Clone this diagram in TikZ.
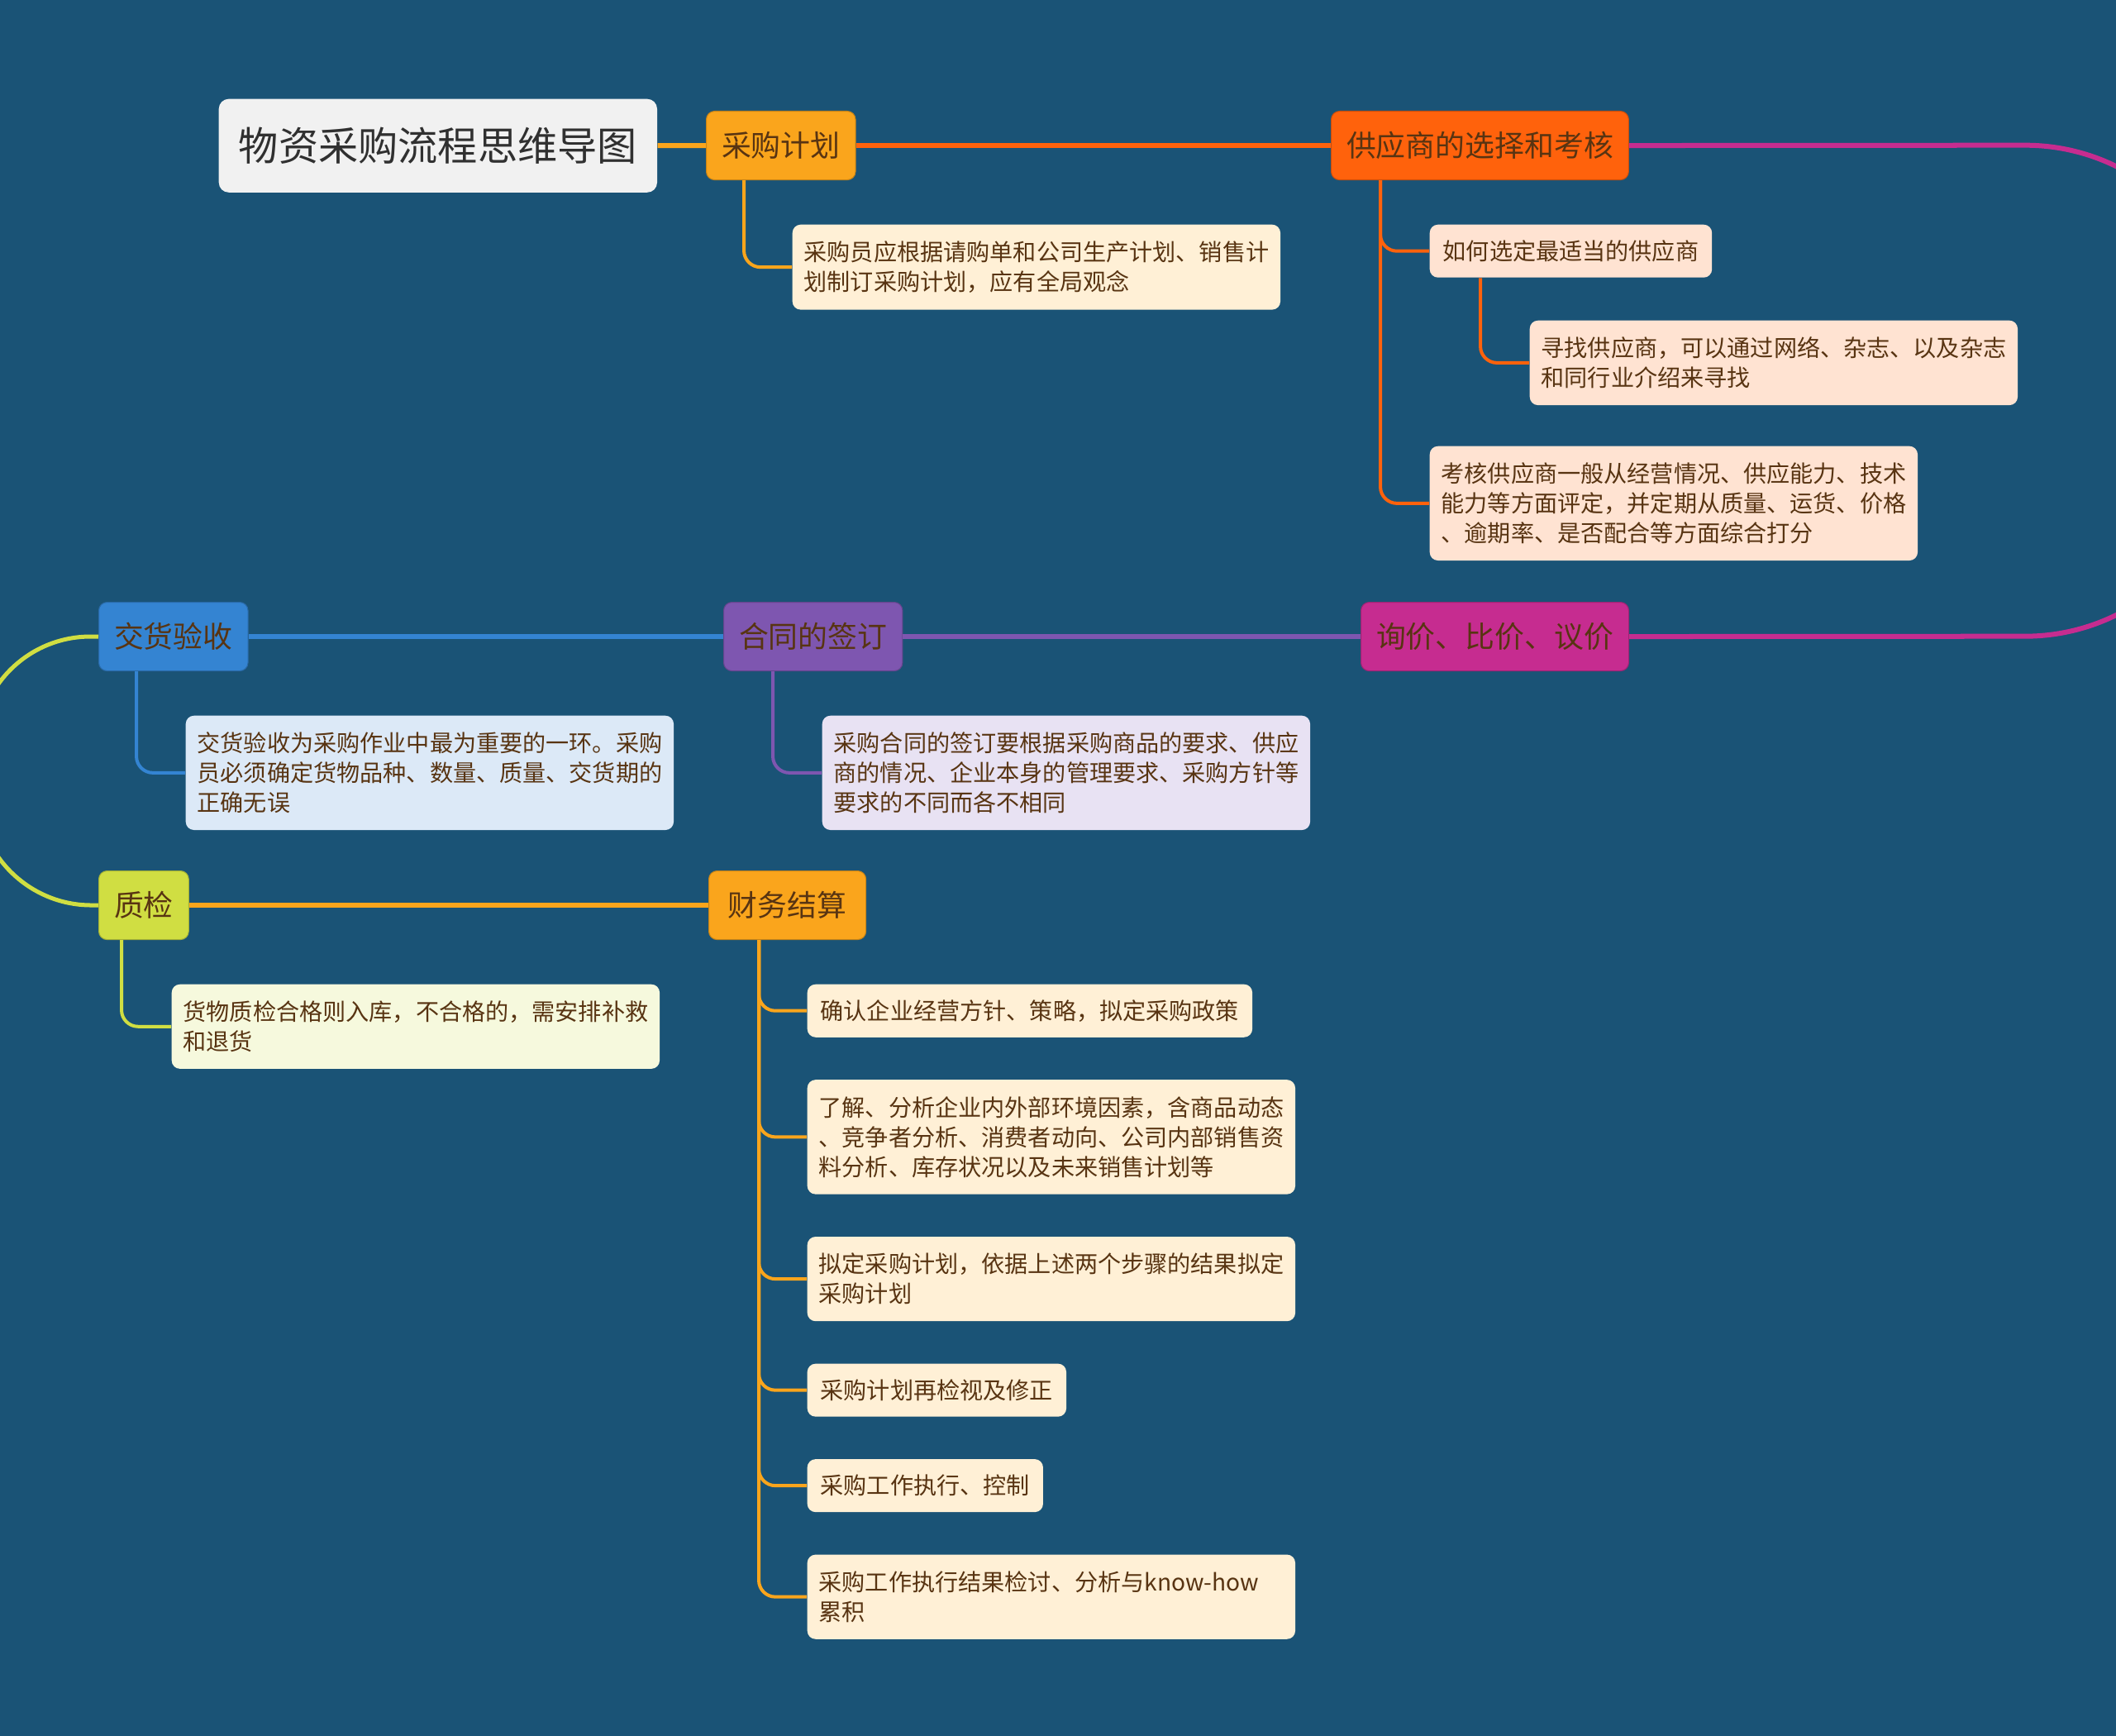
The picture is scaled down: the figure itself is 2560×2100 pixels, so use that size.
\documentclass[tikz,border=0pt]{standalone}
\usepackage{fontspec}
\setmainfont{Noto Sans CJK SC}
\usetikzlibrary{positioning,calc}
\definecolor{PageBlue}{RGB}{26,83,118}
\definecolor{TitleGrey}{RGB}{241,241,241}
\definecolor{TitleInk}{RGB}{48,48,48}
\definecolor{InkBrown}{RGB}{88,52,18}
\definecolor{PlanAmber}{RGB}{250,165,28}
\definecolor{SupplierRed}{RGB}{255,98,12}
\definecolor{PriceMagenta}{RGB}{198,44,144}
\definecolor{ContractPurple}{RGB}{126,86,176}
\definecolor{DeliveryBlue}{RGB}{52,132,210}
\definecolor{CheckLime}{RGB}{208,222,66}
\definecolor{AmberNote}{RGB}{255,240,214}
\definecolor{PeachNote}{RGB}{255,227,210}
\definecolor{LilacNote}{RGB}{232,226,243}
\definecolor{SkyNote}{RGB}{220,233,247}
\definecolor{LimeNote}{RGB}{246,249,221}
\tikzset{
  headbox/.style={fill=TitleGrey,rounded corners=0.12cm,minimum width=5.3cm,
    minimum height=1.13cm,text=TitleInk,font=\fontsize{13.7pt}{16pt}\selectfont,
    anchor=north west},
  branch/.style={draw=#1!80!black,line width=0.3pt,fill=#1,rounded corners=0.1cm,
    minimum height=0.83cm,inner xsep=0.185cm,text=InkBrown,
    font=\fontsize{10.2pt}{12pt}\selectfont,anchor=north west},
  note/.style={fill=#1,rounded corners=0.1cm,inner xsep=0.16cm,inner ysep=0.17cm,
    minimum height=0.64cm,text=InkBrown,font=\fontsize{8pt}{10.25pt}\selectfont,
    align=left,anchor=north west},
  widenote/.style={note=#1,inner xsep=0.14cm,inner ysep=0.2cm,text width=5.62cm},
  link/.style={line width=0.06cm,draw=#1},
  twig/.style={line width=0.04cm,draw=#1,rounded corners=0.2cm}
}

\begin{document}
\begin{tikzpicture}[x=0.01cm,y=-0.01cm,node distance=0.5cm]
  \useasboundingbox (0,0) rectangle (2560,2100);
  \fill[PageBlue] (0,0) rectangle (2560,2100);
  \clip (0,0) rectangle (2560,2100);

  % main chain
  \node[headbox] (head) at (264,119) {物资采购流程思维导图};
  \node[branch=PlanAmber] (plan) at (854,134) {采购计划};
  \node[branch=SupplierRed] (supp) at (1610,134) {供应商的选择和考核};
  \node[branch=PriceMagenta] (price) at (1646,728) {询价、比价、议价};
  \node[branch=ContractPurple] (contract) at (875,728) {合同的签订};
  \node[branch=DeliveryBlue] (deliv) at (119,728) {交货验收};
  \node[branch=CheckLime] (check) at (119,1053) {质检};
  \node[branch=PlanAmber,minimum width=1.9cm] (fin) at (857,1053) {财务结算};

  \draw[link=PlanAmber] (head) -- (plan);
  \draw[link=SupplierRed] (plan) -- (supp);
  \draw[link=PriceMagenta,rounded corners=2.5cm] (supp.east) -- (2700,175.5)
    -- (2700,769.5) -- (price.east);
  \draw[link=ContractPurple] (price) -- (contract);
  \draw[link=DeliveryBlue] (contract) -- (deliv);
  \draw[link=CheckLime,line width=0.05cm,rounded corners=1.375cm] (deliv.west)
    -- (-27.5,769.5) -- (-27.5,1094.5) -- (check.west);
  \draw[link=PlanAmber] (check) -- (fin);

  % notes
  \node[widenote=AmberNote] (plannote) at (958,271)
    {采购员应根据请购单和公司生产计划、销售计\\划制订采购计划，应有全局观念};
  \node[note=PeachNote] (pick) at (1729,271) {如何选定最适当的供应商};
  \node[widenote=PeachNote] (search) at (1850,387)
    {寻找供应商，可以通过网络、杂志、以及杂志\\和同行业介绍来寻找};
  \node[widenote=PeachNote] (assess) at (1729,539)
    {考核供应商一般从经营情况、供应能力、技术\\能力等方面评定，并定期从质量、运货、价格\\、逾期率、是否配合等方面综合打分};
  \node[widenote=LilacNote] (contractnote) at (994,865)
    {采购合同的签订要根据采购商品的要求、供应\\商的情况、企业本身的管理要求、采购方针等\\要求的不同而各不相同};
  \node[widenote=SkyNote] (delivnote) at (224,865)
    {交货验收为采购作业中最为重要的一环。采购\\员必须确定货物品种、数量、质量、交货期的\\正确无误};
  \node[widenote=LimeNote] (checknote) at (207,1190)
    {货物质检合格则入库，不合格的，需安排补救\\和退货};

  \node[note=AmberNote] (fin1) at (976,1190) {确认企业经营方针、策略，拟定采购政策};
  \node[widenote=AmberNote,below=of fin1.south west,anchor=north west] (fin2)
    {了解、分析企业内外部环境因素，含商品动态\\、竞争者分析、消费者动向、公司内部销售资\\料分析、库存状况以及未来销售计划等};
  \node[widenote=AmberNote,below=of fin2.south west,anchor=north west] (fin3)
    {拟定采购计划，依据上述两个步骤的结果拟定\\采购计划};
  \node[note=AmberNote,below=of fin3.south west,anchor=north west] (fin4) {采购计划再检视及修正};
  \node[note=AmberNote,below=of fin4.south west,anchor=north west] (fin5) {采购工作执行、控制};
  \node[widenote=AmberNote,below=of fin5.south west,anchor=north west] (fin6)
    {采购工作执行结果检讨、分析与know-how\\累积};

  % branch to note
  \draw[twig=PlanAmber] ([xshift=0.46cm]plan.south west) |- (plannote.west);
  \draw[twig=SupplierRed] ([xshift=0.6cm]supp.south west) |- (pick.west);
  \draw[twig=SupplierRed] ([xshift=0.6cm]supp.south west) |- (assess.west);
  \draw[twig=SupplierRed] ([xshift=0.62cm]pick.south west) |- (search.west);
  \draw[twig=ContractPurple] ([xshift=0.6cm]contract.south west) |- (contractnote.west);
  \draw[twig=DeliveryBlue] ([xshift=0.46cm]deliv.south west) |- (delivnote.west);
  \draw[twig=CheckLime] ([xshift=0.28cm]check.south west) |- (checknote.west);
  \foreach \f in {fin1,fin2,fin3,fin4,fin5,fin6}
    \draw[twig=PlanAmber] ([xshift=0.61cm]fin.south west) |- (\f.west);
\end{tikzpicture}
\end{document}
